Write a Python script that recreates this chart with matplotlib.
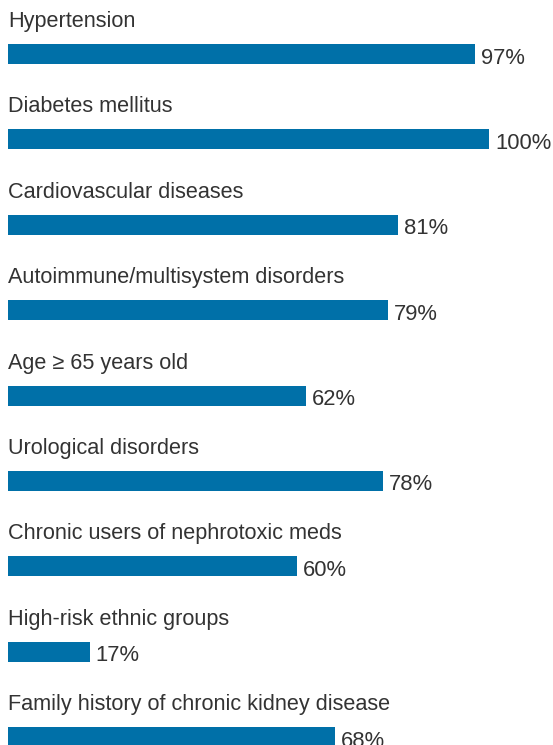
import matplotlib.pyplot as plt

# risk groups and screening percentages
categories = ["Hypertension", "Diabetes mellitus", "Cardiovascular diseases",
              "Autoimmune/multisystem disorders", "Age \u2265 65 years old",
              "Urological disorders", "Chronic users of nephrotoxic meds",
              "High-risk ethnic groups", "Family history of chronic kidney disease"]
values = [97, 100, 81, 79, 62, 78, 60, 17, 68]

plt.rcParams['font.family'] = ['Liberation Sans', 'DejaVu Sans']

W, H = 553, 745
fig = plt.figure(figsize=(W / 100, H / 100), dpi=100)
ax = fig.add_axes([0, 0, 1, 1])

px = 4.81          # pixels per percent
x0 = 8             # left margin in pixels
ax.set_xlim(-x0 / px, (W - x0) / px)
ax.set_ylim(H, 0)  # y in pixel rows, top down

pitch = 85.4
bar_h = 20
tops = [44 + i * pitch for i in range(len(values))]
centers = [t + bar_h / 2 for t in tops]

ax.barh(centers, values, height=bar_h, left=0, color="#0070a8")

txt = "#333333"
for name, v, t in zip(categories, values, tops):
    ax.text(0, t - 17, name, fontsize=15.6, color=txt, va='baseline', ha='left')
    ax.text(v + 6 / px, t + bar_h - 0.5, f"{v}%", fontsize=15.8, color=txt,
            va='baseline', ha='left')

ax.axis('off')
fig.savefig("out.png", dpi=100)
